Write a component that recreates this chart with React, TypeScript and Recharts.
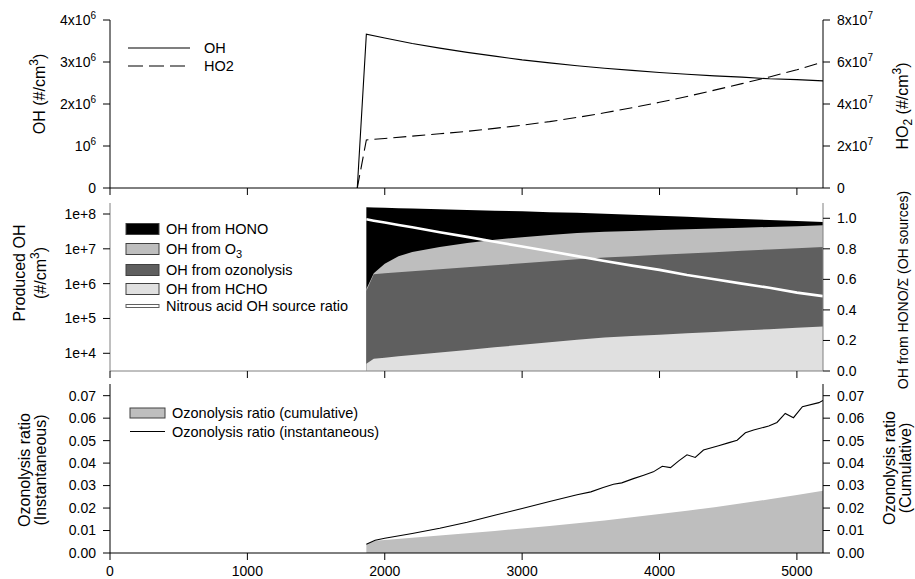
import React from "react";
import { ComposedChart, Line, Area, XAxis, YAxis } from "recharts";

const FONT = "Arial, 'Liberation Sans', Helvetica, sans-serif";
const X_MAX = 5190;
const xTicks = [0, 1000, 2000, 3000, 4000, 5000];

// top panel: OH and HO2 concentrations
const timeTop = [1800, 1866, 2000, 2200, 2400, 2600, 2800, 3000, 3200, 3400, 3600, 3800, 4000, 4200, 4400, 4600, 4800, 5000, 5190];
const ohConc = [0, 3.66e6, 3.57e6, 3.44e6, 3.33e6, 3.23e6, 3.14e6, 3.05e6, 2.98e6, 2.91e6, 2.85e6, 2.8e6, 2.75e6, 2.71e6, 2.67e6, 2.64e6, 2.6e6, 2.58e6, 2.55e6];
const ho2Conc = [0, 2.29e7, 2.36e7, 2.47e7, 2.58e7, 2.7e7, 2.84e7, 2.99e7, 3.16e7, 3.36e7, 3.58e7, 3.82e7, 4.08e7, 4.36e7, 4.66e7, 4.97e7, 5.29e7, 5.63e7, 6.0e7];

// middle panel: produced OH by source
const timeMid = [1866, 1920, 2000, 2100, 2200, 2400, 2600, 2800, 3000, 3200, 3400, 3600, 3800, 4000, 4200, 4400, 4600, 4800, 5000, 5190];
const ohHcho = [5.0e3, 7.0e3, 7.5e3, 8.2e3, 8.9e3, 1.05e4, 1.25e4, 1.48e4, 1.76e4, 2.07e4, 2.46e4, 2.85e4, 3.12e4, 3.43e4, 3.76e4, 4.1e4, 4.49e4, 4.92e4, 5.4e4, 5.9e4];
const ohOzonolysis = [6.1e5, 1.85e6, 1.97e6, 2.11e6, 2.25e6, 2.57e6, 2.94e6, 3.35e6, 3.82e6, 4.37e6, 4.99e6, 5.61e6, 6.11e6, 6.71e6, 7.31e6, 7.96e6, 8.74e6, 9.52e6, 1.03e7, 1.13e7];
const ohO3 = [8.8e4, 1.2e5, 1.76e6, 3.99e6, 5.85e6, 8.72e6, 1.18e7, 1.49e7, 1.76e7, 2.05e7, 2.35e7, 2.54e7, 2.66e7, 2.78e7, 2.91e7, 3.04e7, 3.16e7, 3.3e7, 3.45e7, 3.6e7];
const ohHono = [1.55e8, 1.52e8, 1.47e8, 1.41e8, 1.36e8, 1.26e8, 1.15e8, 1.06e8, 9.76e7, 8.81e7, 7.95e7, 7.1e7, 6.28e7, 5.43e7, 4.67e7, 3.89e7, 3.19e7, 2.51e7, 1.81e7, 1.15e7];
const honoRatio = [0.993, 0.984, 0.972, 0.956, 0.941, 0.909, 0.878, 0.846, 0.815, 0.784, 0.752, 0.72, 0.69, 0.662, 0.628, 0.601, 0.572, 0.545, 0.513, 0.49];

// bottom panel: ozonolysis ratios
const timeInst = [1866, 1930, 2000, 2200, 2400, 2600, 2800, 3000, 3200, 3400, 3500, 3590, 3665, 3725, 3810, 3885, 3955, 4020, 4080, 4140, 4200, 4260, 4320, 4430, 4500, 4565, 4625, 4685, 4795, 4855, 4915, 4975, 5040, 5160, 5190];
const ozoInst = [0.0039, 0.0057, 0.0066, 0.0087, 0.011, 0.0137, 0.0168, 0.0198, 0.0229, 0.0259, 0.0272, 0.0291, 0.0306, 0.0312, 0.0331, 0.0346, 0.0361, 0.0386, 0.038, 0.041, 0.0437, 0.0425, 0.0458, 0.0477, 0.049, 0.0502, 0.0535, 0.0547, 0.0565, 0.0581, 0.0621, 0.0602, 0.0651, 0.0669, 0.0679];
const timeCum = [1866, 1930, 2000, 2200, 2400, 2600, 2800, 3000, 3200, 3400, 3600, 3800, 4000, 4200, 4400, 4600, 4800, 5000, 5190];
const ozoCum = [0.004, 0.0054, 0.0058, 0.0068, 0.0078, 0.0088, 0.0098, 0.0109, 0.012, 0.0132, 0.0145, 0.0159, 0.0173, 0.0188, 0.0204, 0.0221, 0.0239, 0.0258, 0.0277];

const topData = timeTop.map((t, i) => ({ t, oh: ohConc[i], ho2: ho2Conc[i] }));

const midData = timeMid.map((t, i) => {
  const hcho = ohHcho[i];
  const ozo = hcho + ohOzonolysis[i];
  const o3 = ozo + ohO3[i];
  const hono = o3 + ohHono[i];
  return { t, hcho, ozo, o3, hono, ratio: honoRatio[i] };
});

const botData = (() => {
  const rows: Record<number, any> = {};
  timeInst.forEach((t, i) => (rows[t] = { ...(rows[t] || { t }), inst: ozoInst[i] }));
  timeCum.forEach((t, i) => (rows[t] = { ...(rows[t] || { t }), cum: ozoCum[i] }));
  return Object.values(rows).sort((a: any, b: any) => a.t - b.t);
})();

const LOG_MIN = 3100;
const LOG_MAX = 2.07e8;

const plainTick = (anchor: "start" | "end", fmt: (v: number) => string, size = 14) => (p: any) => (
  <text x={p.x} y={p.y} dy="0.35em" textAnchor={anchor} fontSize={size} fontFamily={FONT} fill="#000">
    {fmt(p.payload.value)}
  </text>
);

const sciTick = (anchor: "start" | "end") => (p: any) => {
  const v = p.payload.value;
  const common = { x: p.x, y: p.y, dy: "0.35em", textAnchor: anchor, fontSize: 14, fontFamily: FONT, fill: "#000" };
  if (v === 0) return <text {...common}>0</text>;
  const e = Math.floor(Math.log10(v) + 1e-9);
  const m = Math.round(v / Math.pow(10, e));
  return (
    <text {...common}>
      {m === 1 ? "" : `${m}x`}10
      <tspan dy={-6} fontSize={10}>{e}</tspan>
    </text>
  );
};

const xTick = (p: any) => (
  <text x={p.x} y={p.y} dy="0.71em" textAnchor="middle" fontSize={14} fontFamily={FONT} fill="#000">
    {p.payload.value}
  </text>
);
const noTick = () => <g />;

const frameAxes = (color: string, labels: boolean) => [
  <XAxis
    key="xb"
    xAxisId={0}
    type="number"
    dataKey="t"
    domain={[0, X_MAX]}
    ticks={xTicks}
    interval={0}
    allowDataOverflow
    height={labels ? 26 : 7}
    tickSize={7}
    tickMargin={6}
    tick={labels ? xTick : noTick}
    axisLine={{ stroke: color }}
    tickLine={{ stroke: "#000" }}
  />,
  <XAxis
    key="xt"
    xAxisId="top"
    orientation="top"
    type="number"
    dataKey="t"
    domain={[0, X_MAX]}
    allowDataOverflow
    height={0}
    tick={false}
    tickLine={false}
    axisLine={{ stroke: color }}
  />,
];

const yCommon = { type: "number" as const, tickSize: 7, tickMargin: 7, interval: 0 as const, allowDataOverflow: true };

const TopPanel = () => (
  <ComposedChart width={915} height={195} data={topData} margin={{ top: 20, right: 0, bottom: 0, left: 0 }}>
    {frameAxes("#000", false)}
    <YAxis yAxisId="l" width={110} {...yCommon} domain={[0, 4e6]} ticks={[0, 1e6, 2e6, 3e6, 4e6]} tick={sciTick("end")} axisLine={{ stroke: "#000" }} tickLine={{ stroke: "#000" }} />
    <YAxis yAxisId="r" orientation="right" width={92} {...yCommon} domain={[0, 8e7]} ticks={[0, 2e7, 4e7, 6e7, 8e7]} tick={sciTick("start")} axisLine={{ stroke: "#000" }} tickLine={{ stroke: "#000" }} />
    <Line yAxisId="l" dataKey="oh" type="linear" stroke="#000" strokeWidth={1.1} dot={false} isAnimationActive={false} />
    <Line yAxisId="r" dataKey="ho2" type="linear" stroke="#000" strokeWidth={1.1} strokeDasharray="13 6" dot={false} isAnimationActive={false} />
  </ComposedChart>
);

const MidPanel = () => (
  <ComposedChart width={915} height={183} data={midData} margin={{ top: 8, right: 0, bottom: 0, left: 0 }}>
    {frameAxes("#808080", false)}
    <YAxis
      yAxisId="l"
      width={110}
      {...yCommon}
      scale="log"
      domain={[LOG_MIN, LOG_MAX]}
      ticks={[1e4, 1e5, 1e6, 1e7, 1e8]}
      tick={plainTick("end", (v) => `1e+${Math.round(Math.log10(v))}`)}
      axisLine={{ stroke: "#808080" }}
      tickLine={{ stroke: "#000" }}
    />
    <YAxis yAxisId="r" orientation="right" width={92} {...yCommon} domain={[0, 1.1]} ticks={[0, 0.2, 0.4, 0.6, 0.8, 1.0]} tick={plainTick("start", (v) => v.toFixed(1))} axisLine={{ stroke: "#808080" }} tickLine={{ stroke: "#000" }} />
    <Area yAxisId="l" dataKey="hono" type="linear" baseValue={LOG_MIN} fill="#000" fillOpacity={1} stroke="none" isAnimationActive={false} />
    <Area yAxisId="l" dataKey="o3" type="linear" baseValue={LOG_MIN} fill="#bebebe" fillOpacity={1} stroke="none" isAnimationActive={false} />
    <Area yAxisId="l" dataKey="ozo" type="linear" baseValue={LOG_MIN} fill="#5f5f5f" fillOpacity={1} stroke="none" isAnimationActive={false} />
    <Area yAxisId="l" dataKey="hcho" type="linear" baseValue={LOG_MIN} fill="#e0e0e0" fillOpacity={1} stroke="none" isAnimationActive={false} />
    <Line yAxisId="r" dataKey="ratio" type="linear" stroke="#fff" strokeWidth={2.6} dot={false} isAnimationActive={false} />
  </ComposedChart>
);

const ozoTicks = [0, 0.01, 0.02, 0.03, 0.04, 0.05, 0.06, 0.07];

const BottomPanel = () => (
  <ComposedChart width={915} height={201} data={botData} margin={{ top: 6, right: 0, bottom: 0, left: 0 }}>
    {frameAxes("#000", true)}
    <YAxis yAxisId="l" width={110} {...yCommon} domain={[0, 0.0752]} ticks={ozoTicks} tick={plainTick("end", (v) => v.toFixed(2))} axisLine={{ stroke: "#000" }} tickLine={{ stroke: "#000" }} />
    <YAxis yAxisId="r" orientation="right" width={92} {...yCommon} domain={[0, 0.0752]} ticks={ozoTicks} tick={plainTick("start", (v) => v.toFixed(2))} axisLine={{ stroke: "#000" }} tickLine={{ stroke: "#000" }} />
    <Area yAxisId="r" dataKey="cum" type="linear" connectNulls fill="#bebebe" fillOpacity={1} stroke="none" isAnimationActive={false} />
    <Line yAxisId="l" dataKey="inst" type="linear" connectNulls stroke="#000" strokeWidth={1.1} dot={false} isAnimationActive={false} />
  </ComposedChart>
);

const Swatch = ({ y, fill }: { y: number; fill: string }) => (
  <rect x={126} y={y - 5.5} width={33} height={11} fill={fill} stroke="#404040" strokeWidth={1} />
);

const Overlay = () => (
  <svg width={915} height={579} style={{ position: "absolute", left: 0, top: 0, pointerEvents: "none" }} fontFamily={FONT} fill="#000">
    {/* top legend */}
    <line x1={128} x2={190} y1={48} y2={48} stroke="#000" strokeWidth={1.1} />
    <line x1={128} x2={190} y1={66} y2={66} stroke="#000" strokeWidth={1.1} strokeDasharray="15 6" />
    <text x={204} y={48} dy="0.35em" fontSize={14.5}>OH</text>
    <text x={204} y={66} dy="0.35em" fontSize={14.5}>HO2</text>

    {/* middle legend */}
    <Swatch y={229} fill="#000" />
    <Swatch y={249} fill="#bebebe" />
    <Swatch y={270} fill="#5f5f5f" />
    <Swatch y={289} fill="#e0e0e0" />
    <rect x={126} y={304.5} width={33} height={3} fill="#fff" stroke="#606060" strokeWidth={1} />
    <text x={166} y={229} dy="0.35em" fontSize={14.5}>OH from HONO</text>
    <text x={166} y={249} dy="0.35em" fontSize={14.5}>
      OH from O<tspan dy={4} fontSize={11}>3</tspan>
    </text>
    <text x={166} y={270} dy="0.35em" fontSize={14.5}>OH from ozonolysis</text>
    <text x={166} y={289} dy="0.35em" fontSize={14.5}>OH from HCHO</text>
    <text x={166} y={306} dy="0.35em" fontSize={14.5}>Nitrous acid OH source ratio</text>

    {/* bottom legend */}
    <rect x={130} y={408} width={35} height={10} fill="#bebebe" stroke="#404040" strokeWidth={1} />
    <line x1={130} x2={165} y1={431.5} y2={431.5} stroke="#000" strokeWidth={1.1} />
    <text x={172} y={413} dy="0.35em" fontSize={14.5}>Ozonolysis ratio (cumulative)</text>
    <text x={172} y={431.5} dy="0.35em" fontSize={14.5}>Ozonolysis ratio (instantaneous)</text>

    {/* axis titles */}
    <text transform="translate(45,94) rotate(-90)" textAnchor="middle" fontSize={16}>
      OH (#/cm<tspan dy={-7} fontSize={12}>3</tspan>
      <tspan dy={7}>)</tspan>
    </text>
    <text transform="translate(908,106) rotate(-90)" textAnchor="middle" fontSize={16}>
      HO<tspan dy={4} fontSize={12}>2</tspan>
      <tspan dy={-4}> (#/cm</tspan>
      <tspan dy={-7} fontSize={12}>3</tspan>
      <tspan dy={7}>)</tspan>
    </text>
    <text transform="translate(25,273) rotate(-90)" textAnchor="middle" fontSize={16}>Produced OH</text>
    <text transform="translate(46,273) rotate(-90)" textAnchor="middle" fontSize={16}>
      (#/cm<tspan dy={-7} fontSize={12}>3</tspan>
      <tspan dy={7}>)</tspan>
    </text>
    <text transform="translate(908,290) rotate(-90)" textAnchor="middle" fontSize={14}>OH from HONO/Σ (OH sources)</text>
    <text transform="translate(30,470) rotate(-90)" textAnchor="middle" fontSize={16}>Ozonolysis ratio</text>
    <text transform="translate(46,470) rotate(-90)" textAnchor="middle" fontSize={16}>(Instantaneous)</text>
    <text transform="translate(895,468) rotate(-90)" textAnchor="middle" fontSize={16}>Ozonolysis ratio</text>
    <text transform="translate(911,468) rotate(-90)" textAnchor="middle" fontSize={16}>(Cumulative)</text>
  </svg>
);

export default function App() {
  return (
    <div style={{ position: "absolute", left: 0, top: 0, width: 915, height: 579, background: "#fff", fontFamily: FONT }}>
      <div style={{ position: "absolute", left: 0, top: 0 }}>
        <TopPanel />
      </div>
      <div style={{ position: "absolute", left: 0, top: 195 }}>
        <MidPanel />
      </div>
      <div style={{ position: "absolute", left: 0, top: 378 }}>
        <BottomPanel />
      </div>
      <Overlay />
    </div>
  );
}
